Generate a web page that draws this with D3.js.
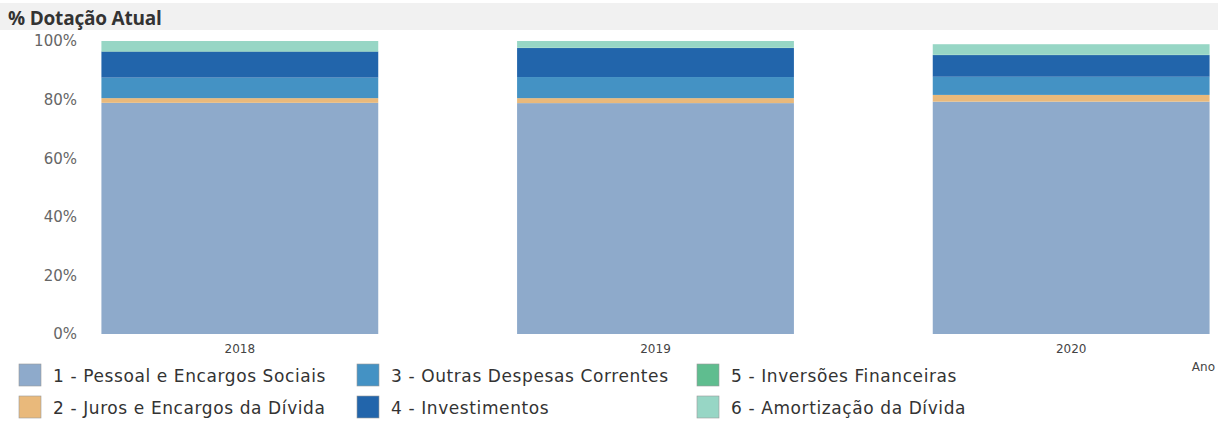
<!DOCTYPE html>
<html lang="pt">
    <head>
        <meta charset="utf-8">
        <title>% Dotação Atual</title>
        <script src="https://d3js.org/d3.v7.min.js"></script>
        <style type="text/css">
            body { margin: 0; background: #fff; }
            .axis path, .axis line { display: none; }
            .yaxis text { font-family: "DejaVu Sans", sans-serif; font-size: 15px; fill: #666; }
            .xaxis text { font-family: "DejaVu Sans", sans-serif; font-size: 12px; fill: #444; }
            .legend text { font-family: "DejaVu Sans", sans-serif; font-size: 17px; fill: #333; letter-spacing: 0.6px; }
        </style>
    </head>
    <body>
        <script type="text/javascript">

            const w = 1227;
            const h = 422;

            const years = ["2018", "2019", "2020"];
            const categories = [
                "1 - Pessoal e Encargos Sociais",
                "2 - Juros e Encargos da Dívida",
                "3 - Outras Despesas Correntes",
                "4 - Investimentos",
                "5 - Inversões Financeiras",
                "6 - Amortização da Dívida"
            ];
            const colors = ["#8eaacb", "#e9b97b", "#4492c4", "#2265ab", "#5fbd8f", "#97d6c5"];

            // % per year, one array per category
            const pessoal    = [78.9, 78.8, 79.3];
            const juros      = [1.6, 1.7, 2.3];
            const outras     = [7.0, 7.2, 6.2];
            const invest     = [8.9, 9.9, 7.4];
            const inversoes  = [0.1, 0.1, 0.1];
            const amortiz    = [3.5, 2.3, 3.6];
            const yTicks = [0, 20, 40, 60, 80, 100];

            const series = [pessoal, juros, outras, invest, inversoes, amortiz];
            const data = years.map((y, i) => {
                const row = { ano: y };
                categories.forEach((c, k) => row[c] = series[k][i]);
                return row;
            });

            const stacked = d3.stack().keys(categories)(data);

            const xScale = d3.scaleBand().domain(years).range([32, 1279]).paddingInner(0.334).paddingOuter(0.167);
            const yScale = d3.scaleLinear().domain([0, 100]).range([334, 41]);

            const svg = d3.select("body").append("svg").attr("width", w).attr("height", h);

            // title band
            svg.append("rect").attr("x", 0).attr("y", 3).attr("width", 1218).attr("height", 27).attr("fill", "#f1f1f1");
            svg.append("text")
                .attr("x", 8).attr("y", 25)
                .style("font-family", "'Open Sans', sans-serif")
                .style("font-weight", "bold")
                .style("font-size", "19px")
                .style("fill", "#333")
                .style("letter-spacing", "-0.2px")
                .text("% Dotação Atual");

            svg.selectAll(".layer")
                .data(stacked)
                .enter().append("g")
                .attr("class", "layer")
                .attr("fill", (d, i) => colors[i])
                .selectAll("rect")
                .data(d => d)
                .enter().append("rect")
                .attr("x", d => xScale(d.data.ano))
                .attr("width", xScale.bandwidth())
                .attr("y", d => yScale(d[1]))
                .attr("height", d => yScale(d[0]) - yScale(d[1]));

            const leftAxis = d3.axisLeft(yScale).tickValues(yTicks).tickFormat(d => d + "%").tickSize(0).tickPadding(0);
            svg.append("g")
                .attr("class", "axis yaxis")
                .attr("transform", "translate(77,0)")
                .call(leftAxis);

            const bottomAxis = d3.axisBottom(xScale).tickSize(0).tickPadding(4);
            svg.append("g")
                .attr("class", "axis xaxis")
                .attr("transform", "translate(0,340)")
                .call(bottomAxis);

            svg.append("text")
                .attr("x", 1215).attr("y", 371)
                .style("text-anchor", "end")
                .style("font-family", "'DejaVu Sans', sans-serif")
                .style("font-size", "12px")
                .style("fill", "#444")
                .text("Ano");

            const colX = [19, 357, 697];
            const legend = svg.selectAll(".legend")
                .data(categories)
                .enter().append("g")
                .attr("class", "legend")
                .attr("transform", (d, i) => `translate(${colX[Math.floor(i / 2)]},${364 + (i % 2) * 32})`);

            legend.append("rect")
                .attr("width", 22)
                .attr("height", 22)
                .attr("stroke", "#999")
                .attr("stroke-width", 0.6)
                .style("fill", (d, i) => colors[i]);

            legend.append("text")
                .attr("x", 34)
                .attr("y", 12)
                .attr("dy", ".35em")
                .text(d => d);
        </script>
    </body>
</html>
